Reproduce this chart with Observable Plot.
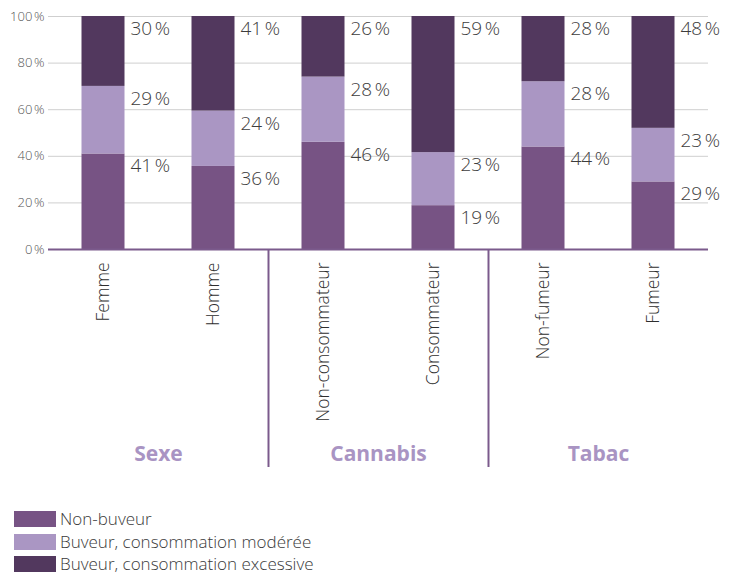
<!DOCTYPE html>
<html>
<head>
<meta charset="utf-8">
<script src="https://cdn.jsdelivr.net/npm/d3@7"></script>
<script src="https://cdn.jsdelivr.net/npm/@observablehq/plot@0.6"></script>
<style>
  html, body { margin: 0; padding: 0; background: #fff; }
  body { width: 736px; height: 575px; overflow: hidden; font-family: "Open Sans", sans-serif; }
  #chart svg { display: block; }
  #legend { margin: 8px 0 0 14px; font-weight: 300; font-size: 17px; color: #3a3a3a; line-height: 22.5px; }
  .row { display: flex; align-items: center; height: 22.5px; }
  .sw { width: 42px; height: 16px; margin-right: 4px; }
</style>
</head>
<body>
<div id="chart"></div>
<div id="legend"></div>
<script>
const categories = ["Femme", "Homme", "Non-consommateur", "Consommateur", "Non-fumeur", "Fumeur"];
const series = ["Non-buveur", "Buveur, consommation modérée", "Buveur, consommation excessive"];
const nonBuveur = [41, 36, 46, 19, 44, 29];
const moderee = [29, 24, 28, 23, 28, 23];
const excessive = [30, 41, 26, 59, 28, 48];
const colors = ["#775384", "#aa96c3", "#52385e"];
const groups = ["Sexe", "Cannabis", "Tabac"];
const groupFirst = ["Femme", "Non-consommateur", "Non-fumeur"];
const separators = ["Non-consommateur", "Non-fumeur"];
const yTicks = [0, 0.2, 0.4, 0.6, 0.8, 1];

const values = [nonBuveur, moderee, excessive];
const data = [];
series.forEach((s, si) => categories.forEach((c, ci) => data.push({cat: c, serie: s, value: values[si][ci]})));

const stackOpts = {x: "cat", y: "value", z: "serie", order: series, offset: "normalize"};

const chart = Plot.plot({
  width: 736,
  height: 500,
  marginLeft: 48,
  marginRight: 28,
  marginTop: 16,
  marginBottom: 251,
  style: {fontFamily: "'Open Sans', sans-serif", color: "#444"},
  x: {domain: categories, padding: 0, axis: null, label: null},
  y: {domain: [0, 1], axis: null, label: null},
  color: {domain: series, range: colors},
  marks: [
    Plot.gridY(yTicks, {stroke: "#cfcfcf", strokeOpacity: 1, strokeWidth: 1}),
    Plot.axisY(yTicks, {label: null, tickSize: 0, tickPadding: 4, fontSize: 13, fontWeight: 300, fill: "#555",
      tickFormat: d => Math.round(d * 100) + "\u202f%"}),
    Plot.barY(data, Plot.stackY({...stackOpts, fill: "serie", insetLeft: 33.5, insetRight: 33.5})),
    Plot.text(data, Plot.stackY2({...stackOpts, text: d => d.value + "\u202f%", textAnchor: "start",
      lineAnchor: "top", dx: 27, dy: 5, fontSize: 19, fontWeight: 300, fill: "#3d3d3d"})),
    Plot.ruleY([0], {stroke: "#7b5a8c", strokeWidth: 2}),
    Plot.axisX({label: null, tickSize: 0, tickPadding: 13, tickRotate: -90, fontSize: 17.5, fontWeight: 300, fill: "#2e2e2e"}),
    Plot.ruleX(separators, {x: d => d, dx: -55, stroke: "#7b5a8c", strokeWidth: 2, insetTop: 233, insetBottom: -218}),
    Plot.text(groups, {x: (d, i) => groupFirst[i], text: d => d, dx: 55, frameAnchor: "bottom", dy: 211,
      fontSize: 21, fontWeight: "bold", fill: "#a994c3"})
  ]
});
document.getElementById("chart").appendChild(chart);

const legend = document.getElementById("legend");
series.forEach((s, i) => {
  const row = document.createElement("div");
  row.className = "row";
  const sw = document.createElement("div");
  sw.className = "sw";
  sw.style.background = colors[i];
  const t = document.createElement("span");
  t.textContent = s;
  row.appendChild(sw); row.appendChild(t);
  legend.appendChild(row);
});
</script>
</body>
</html>
